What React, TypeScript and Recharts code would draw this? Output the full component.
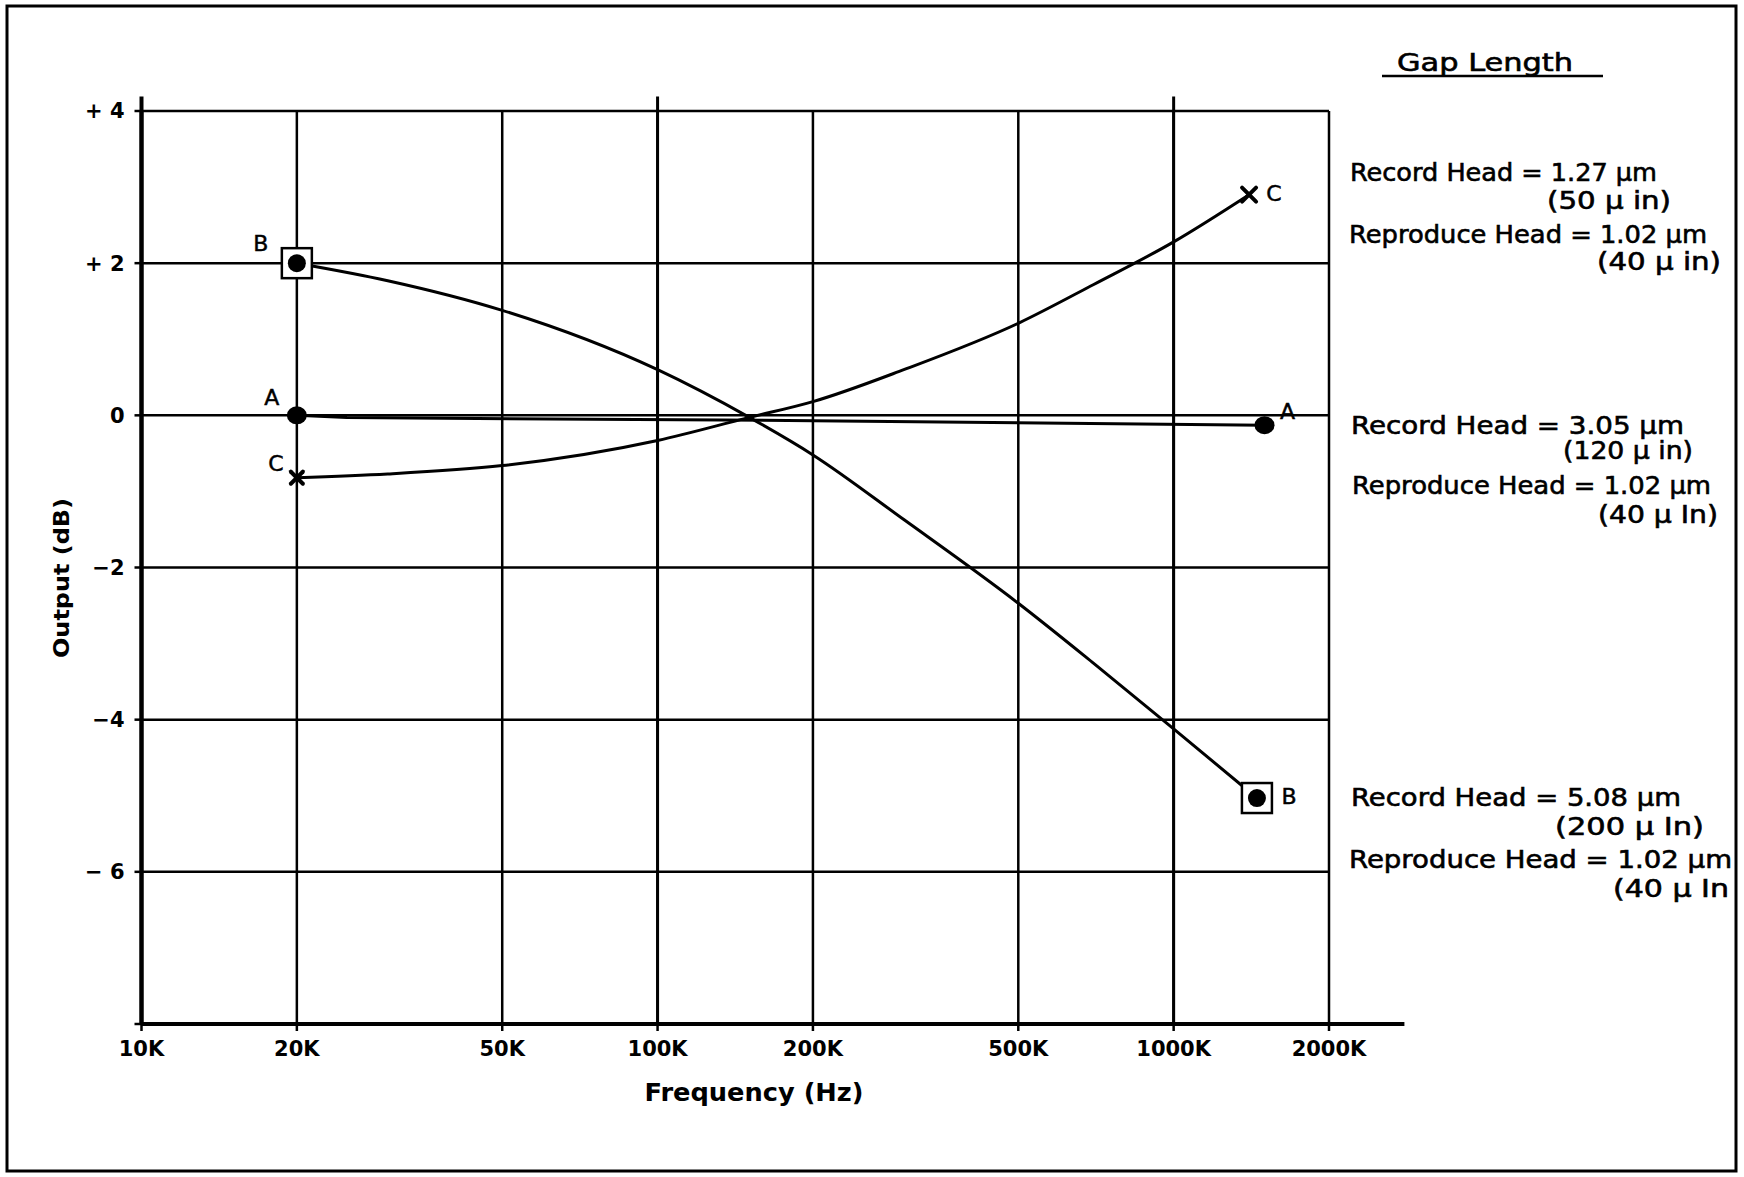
import React from 'react';
import { LineChart, Line, XAxis, YAxis, CartesianGrid, ReferenceLine } from 'recharts';

// ---------- data ----------
const X_TICKS = [10000, 20000, 50000, 100000, 200000, 500000, 1000000, 2000000];
const X_TICK_LABELS = ['10K', '20K', '50K', '100K', '200K', '500K', '1000K', '2000K'];
const Y_TICKS = [-8, -6, -4, -2, 0, 2, 4];
const Y_TICK_LABELS = ['', '− 6', '−4', '−2', '0', '+ 2', '+ 4'];

// A: record gap 3.05 um
const SERIES_A = [
  { f: 20000, db: 0, tag: 'A' },
  { f: 25000, db: -0.03 },
  { f: 200000, db: -0.07 },
  { f: 1500000, db: -0.13, tag: 'A' },
];
// B: record gap 5.08 um
const SERIES_B = [
  { f: 20000, db: 2.0, tag: 'B' },
  { f: 30000, db: 1.77 },
  { f: 50000, db: 1.38 },
  { f: 100000, db: 0.6 },
  { f: 150000, db: -0.02 },
  { f: 200000, db: -0.52 },
  { f: 300000, db: -1.37 },
  { f: 500000, db: -2.47 },
  { f: 700000, db: -3.26 },
  { f: 1000000, db: -4.12 },
  { f: 1450000, db: -5.03, tag: 'B' },
];
// C: record gap 1.27 um
const SERIES_C = [
  { f: 20000, db: -0.82, tag: 'C' },
  { f: 30000, db: -0.77 },
  { f: 50000, db: -0.66 },
  { f: 100000, db: -0.33 },
  { f: 150000, db: -0.03 },
  { f: 200000, db: 0.18 },
  { f: 300000, db: 0.6 },
  { f: 500000, db: 1.21 },
  { f: 700000, db: 1.72 },
  { f: 1000000, db: 2.28 },
  { f: 1400000, db: 2.9, tag: 'C' },
];

const TITLE_X = 'Frequency (Hz)';
const TITLE_Y = 'Output (dB)';
const NOTE_TITLE = 'Gap Length';
const NOTE_LINES = [
  'Record Head = 1.27 µm',
  '(50 µ in)',
  'Reproduce Head = 1.02 µm',
  '(40 µ in)',
  'Record  Head = 3.05 µm',
  '(120 µ in)',
  'Reproduce  Head = 1.02 µm',
  '(40 µ In)',
  'Record  Head = 5.08 µm',
  '(200 µ In)',
  'Reproduce  Head = 1.02 µm',
  '(40 µ In',
];

// axis-extension decorations (data units)
const X_MIN = 10000;
const X_MAX = 2000000;
const X_AXIS_END = 2800000;
const Y_MIN = -8;
const Y_MAX = 4;
const Y_AXIS_TOP = 4.19;
const DECADES = [100000, 1000000];

// ---------- layout / style ----------
const W = 1744;
const H = 1177;
const MARGIN = { top: 111, right: 415, bottom: 113, left: 81.5 };
const Y_AXIS_W = 60;
const PLOT_LEFT = MARGIN.left + Y_AXIS_W;
const FONT = '"DejaVu Sans", "Liberation Sans", sans-serif';
const NOTE_LAYOUT = [
  { x: 1350, y: 181, w: 307 },
  { x: 1547, y: 209, w: 124 },
  { x: 1349, y: 243, w: 358 },
  { x: 1597, y: 270, w: 124 },
  { x: 1351, y: 434, w: 333 },
  { x: 1563, y: 459, w: 130 },
  { x: 1352, y: 494, w: 359 },
  { x: 1598, y: 523, w: 120 },
  { x: 1351, y: 806, w: 330 },
  { x: 1555, y: 835, w: 149 },
  { x: 1349, y: 868, w: 383 },
  { x: 1613, y: 897, w: 116 },
];
const TAG_OFFSET: Record<string, { start: [number, number]; end: [number, number] }> = {
  A: { start: [-25, -18], end: [23, -14] },
  B: { start: [-36, -20], end: [32, -2] },
  C: { start: [-21, -14], end: [25, -1] },
};

const makeDot = (kind: 'A' | 'B' | 'C', lastIndex: number) => (props: any) => {
  const { cx, cy, index, payload } = props;
  const key = `dot-${kind}-${index}`;
  if (!payload || !payload.tag || cx == null || cy == null) return <g key={key} />;
  const off = index === 0 ? TAG_OFFSET[kind].start : TAG_OFFSET[kind].end;
  let marker: React.ReactNode = null;
  if (kind === 'A') {
    marker = <ellipse cx={cx} cy={cy} rx={10} ry={9} fill="#000" />;
  } else if (kind === 'B') {
    marker = (
      <g>
        <rect x={cx - 15} y={cy - 15} width={30} height={30} fill="#fff" stroke="#000" strokeWidth={2.5} />
        <circle cx={cx} cy={cy} r={9} fill="#000" />
      </g>
    );
  } else {
    const s = index === lastIndex ? 7 : 6;
    marker = (
      <g stroke="#000" strokeWidth={4} strokeLinecap="round">
        <line x1={cx - s} y1={cy - s} x2={cx + s} y2={cy + s} />
        <line x1={cx - s} y1={cy + s} x2={cx + s} y2={cy - s} />
      </g>
    );
  }
  return (
    <g key={key}>
      {marker}
      <text
        x={cx + off[0]}
        y={cy + off[1]}
        textAnchor="middle"
        dominantBaseline="central"
        fontSize={22}
        fontFamily={FONT}
        fill="#000"
        stroke="#000"
        strokeWidth={0.5}
      >
        {payload.tag}
      </text>
    </g>
  );
};

const xFmt = (v: number) => {
  const i = X_TICKS.indexOf(v);
  return i >= 0 ? X_TICK_LABELS[i] : '';
};
const yFmt = (v: number) => {
  const i = Y_TICKS.indexOf(v);
  return i >= 0 ? Y_TICK_LABELS[i] : '';
};

const XTick = (props: any) => {
  const { x, y, payload } = props;
  return (
    <text
      x={x}
      y={y}
      dy="0.71em"
      textAnchor="middle"
      fontSize={21}
      fontWeight="bold"
      fontFamily={FONT}
      fill="#000"
    >
      {xFmt(payload.value)}
    </text>
  );
};

const YTick = (props: any) => {
  const { y, payload } = props;
  return (
    <text
      x={PLOT_LEFT - 17}
      y={y}
      dy="0.355em"
      textAnchor="end"
      fontSize={21}
      fontWeight="bold"
      fontFamily={FONT}
      fill="#000"
    >
      {yFmt(payload.value)}
    </text>
  );
};

export default function App() {
  return (
    <div style={{ position: 'absolute', left: 0, top: 0, width: W, height: H, background: '#fff' }}>
      <LineChart width={W} height={H} margin={MARGIN}>
        <CartesianGrid stroke="#000" strokeWidth={2.5} strokeDasharray="" />
        <XAxis
          dataKey="f"
          type="number"
          scale="log"
          domain={[X_MIN, X_MAX]}
          ticks={X_TICKS}
          allowDataOverflow
          height={40}
          tickSize={7}
          tickMargin={10}
          tick={<XTick />}
          tickLine={{ stroke: '#000', strokeWidth: 2.5 }}
          axisLine={{ stroke: '#000', strokeWidth: 4 }}
        />
        <YAxis
          dataKey="db"
          type="number"
          domain={[Y_MIN, Y_MAX]}
          ticks={Y_TICKS}
          allowDataOverflow
          width={Y_AXIS_W}
          tickSize={7}
          tickMargin={9}
          tick={<YTick />}
          tickLine={{ stroke: '#000', strokeWidth: 2.5 }}
          axisLine={{ stroke: '#000', strokeWidth: 4 }}
        />
        {DECADES.map((d) => (
          <ReferenceLine
            key={`dec-${d}`}
            segment={[{ x: d, y: Y_MIN }, { x: d, y: Y_AXIS_TOP }]}
            stroke="#000"
            strokeWidth={3}
            ifOverflow="visible"
          />
        ))}
        <ReferenceLine
          segment={[{ x: X_MIN, y: Y_MIN }, { x: X_MIN, y: Y_AXIS_TOP }]}
          stroke="#000"
          strokeWidth={4}
          ifOverflow="visible"
        />
        <ReferenceLine
          segment={[{ x: X_MIN, y: Y_MIN }, { x: X_AXIS_END, y: Y_MIN }]}
          stroke="#000"
          strokeWidth={4}
          ifOverflow="visible"
        />
        <Line
          data={SERIES_A}
          dataKey="db"
          type="linear"
          stroke="#000"
          strokeWidth={3}
          isAnimationActive={false}
          dot={makeDot('A', SERIES_A.length - 1)}
          activeDot={false}
        />
        <Line
          data={SERIES_C}
          dataKey="db"
          type="monotone"
          stroke="#000"
          strokeWidth={3}
          isAnimationActive={false}
          dot={makeDot('C', SERIES_C.length - 1)}
          activeDot={false}
        />
        <Line
          data={SERIES_B}
          dataKey="db"
          type="monotone"
          stroke="#000"
          strokeWidth={3}
          isAnimationActive={false}
          dot={makeDot('B', SERIES_B.length - 1)}
          activeDot={false}
        />
      </LineChart>

      <svg
        width={W}
        height={H}
        style={{ position: 'absolute', left: 0, top: 0, pointerEvents: 'none' }}
      >
        <rect x={7} y={6} width={1729} height={1165} fill="none" stroke="#000" strokeWidth={3} />
        <text
          x={754}
          y={1101}
          textAnchor="middle"
          fontSize={24}
          fontWeight="bold"
          fontFamily={FONT}
          textLength={219}
          lengthAdjust="spacingAndGlyphs"
        >
          {TITLE_X}
        </text>
        <text
          transform="translate(69 578) rotate(-90)"
          textAnchor="middle"
          fontSize={22}
          fontWeight="bold"
          fontFamily={FONT}
          textLength={160}
          lengthAdjust="spacingAndGlyphs"
        >
          {TITLE_Y}
        </text>
        <text
          x={1397}
          y={71}
          fontSize={24}
          fontFamily={FONT}
          textLength={176}
          lengthAdjust="spacingAndGlyphs"
          stroke="#000"
          strokeWidth={0.6}
        >
          {NOTE_TITLE}
        </text>
        <line x1={1382} y1={76} x2={1603} y2={76} stroke="#000" strokeWidth={2.5} />
        {NOTE_LINES.map((t, i) => (
          <text
            key={`note-${i}`}
            x={NOTE_LAYOUT[i].x}
            y={NOTE_LAYOUT[i].y}
            fontSize={24}
            fontFamily={FONT}
            textLength={NOTE_LAYOUT[i].w}
            lengthAdjust="spacingAndGlyphs"
            stroke="#000"
            strokeWidth={0.6}
          >
            {t}
          </text>
        ))}
      </svg>
    </div>
  );
}
